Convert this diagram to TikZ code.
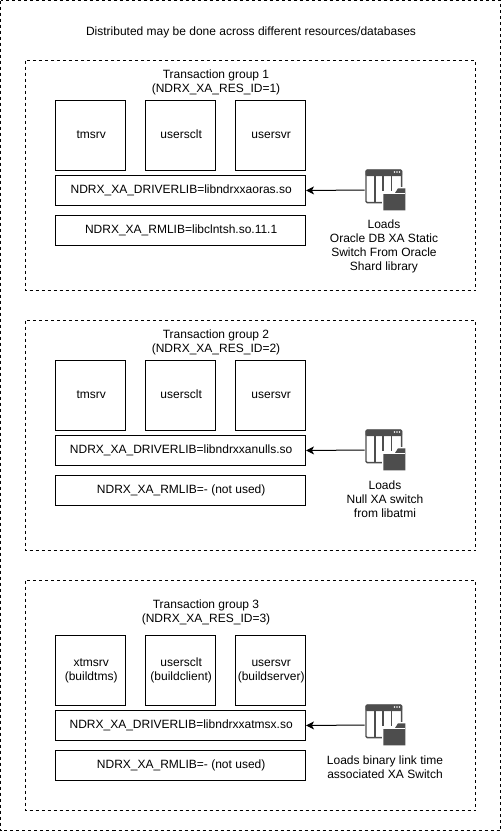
\documentclass[tikz,border=0pt]{standalone}
\usepackage{fontspec}
\setmainfont{Liberation Sans}
\usetikzlibrary{arrows.meta}
\definecolor{ink}{HTML}{000000}
\definecolor{icongrey}{HTML}{4D4D4D}
\newcommand{\bx}[1]{\hspace*{1pt}\raisebox{-0.75pt}{\begin{tabular}{@{}c@{}}#1\end{tabular}}}
\tikzset{
  every node/.style={font=\fontsize{9}{10.5}\selectfont,text=black,align=center,inner sep=0pt},
  region/.style={draw=ink,line width=0.75pt,dash pattern=on 2.25pt off 2.25pt},
  procbox/.style={draw=ink,line width=0.75pt,minimum width=52.5pt,minimum height=52.5pt},
  libbox/.style={draw=ink,line width=0.75pt,minimum width=187.5pt,minimum height=22.5pt},
  iconslot/.style={minimum width=30pt,minimum height=30pt},
  link/.style={draw=ink,line width=0.75pt,-{Stealth[length=6pt,width=6pt,inset=1.6pt]}},
  libicon/.pic={
    \draw[icongrey,line width=1.1pt,rounded corners=1pt] (-19,-20) rectangle (16.7,12.7);
    \fill[icongrey,rounded corners=0.8pt] (-19.4,-20.4) rectangle (17.1,-14);
    \foreach \i in {9.5,12,14.5}{\fill[white] (\i,-18) circle (0.8);}
    \draw[icongrey,line width=1.1pt] (-10,-14) -- (-10,12.7) (-2,-14) -- (-2,12.7) (6.7,-14) -- (6.7,12.7);
    \fill[white] (-3.5,0.5) rectangle (22,22);
    \fill[white] (8,-3.5) rectangle (22,1);
    \fill[icongrey] (-1.7,3) -- (10,3) -- (13,-1.7) -- (20.3,-1.7) -- (20.3,20.3) -- (-1.7,20.3) -- cycle;
    \draw[white,line width=0.5pt] (-1.7,3) -- (20.3,3);
  }
}
\begin{document}
\begin{tikzpicture}[x=0.75pt,y=-0.75pt]
\useasboundingbox (0,0) rectangle (502,832);
\draw[region] (0.5,0.5) rectangle (500.5,830.5);
\node (title) at (251,32) {Distributed may be done across different resources/databases};
% group 1
\draw[region] (25.5,60.5) rectangle (475.5,290.5);
\node (g1) at (216,82) {Transaction group 1\\(NDRX\_XA\_RES\_ID=1)};
\node[procbox] (a1) at (90.5,135.5) {\bx{tmsrv}};
\node[procbox] (b1) at (180.5,135.5) {\bx{usersclt}};
\node[procbox] (c1) at (270.5,135.5) {\bx{usersvr}};
\node[libbox] (d1) at (180.5,190.5) {\bx{NDRX\_XA\_DRIVERLIB=libndrxxaoras.so}};
\node[libbox] (r1) at (180.5,230.5) {\bx{NDRX\_XA\_RMLIB=libclntsh.so.11.1}};
\node[iconslot] (i1) at (385,190) {};
\pic at (i1) {libicon};
\node (t1) at (384,246) {Loads\\Oracle DB XA Static\\Switch From Oracle\\Shard library};
\draw[link] (i1.west) -- (d1.east);
% group 2
\draw[region] (25.5,320.5) rectangle (475.5,550.5);
\node (g2) at (216,342) {Transaction group 2\\(NDRX\_XA\_RES\_ID=2)};
\node[procbox] (a2) at (90.5,395.5) {\bx{tmsrv}};
\node[procbox] (b2) at (180.5,395.5) {\bx{usersclt}};
\node[procbox] (c2) at (270.5,395.5) {\bx{usersvr}};
\node[libbox] (d2) at (180.5,450.5) {\bx{NDRX\_XA\_DRIVERLIB=libndrxxanulls.so}};
\node[libbox] (r2) at (180.5,490.5) {\bx{NDRX\_XA\_RMLIB=- (not used)}};
\node[iconslot] (i2) at (385,450) {};
\pic at (i2) {libicon};
\node (t2) at (385,499) {Loads\\Null XA switch\\from libatmi};
\draw[link] (i2.west) -- (d2.east);
% group 3
\draw[region] (25.5,580.5) rectangle (475.5,810.5);
\node (g3) at (206,612) {Transaction group 3\\(NDRX\_XA\_RES\_ID=3)};
\node[procbox] (a3) at (90.5,670.5) {\bx{xtmsrv\\(buildtms)}};
\node[procbox] (b3) at (180.5,670.5) {\bx{usersclt\\(buildclient)}};
\node[procbox] (c3) at (270.5,670.5) {\bx{usersvr\\(buildserver)}};
\node[libbox] (d3) at (180.5,725.5) {\bx{NDRX\_XA\_DRIVERLIB=libndrxxatmsx.so}};
\node[libbox] (r3) at (180.5,765.5) {\bx{NDRX\_XA\_RMLIB=- (not used)}};
\node[iconslot] (i3) at (385,725) {};
\pic at (i3) {libicon};
\node (t3) at (385,767) {Loads binary link time\\associated XA Switch};
\draw[link] (i3.west) -- (d3.east);
\end{tikzpicture}
\end{document}
